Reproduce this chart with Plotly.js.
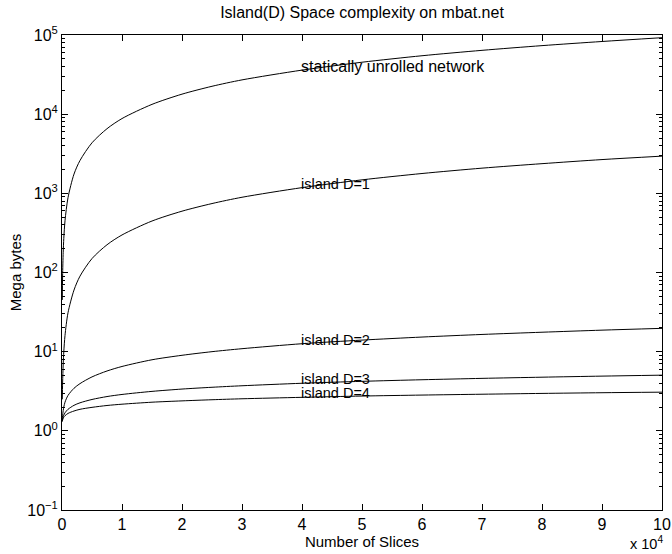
<!DOCTYPE html>
<html>
<head>
<meta charset="utf-8">
<script src="https://cdn.plot.ly/plotly-3.0.1.min.js"></script>
<style>
html,body{margin:0;padding:0;background:#fff;}
#chart{width:672px;height:554px;}
</style>
</head>
<body>
<div id="chart"></div>
<script>
// Number of slices (in units of 10^4)
var slices = [0.005, 0.01, 0.02, 0.03, 0.05, 0.1, 0.2, 0.3, 0.5, 0.75, 1, 1.5, 2, 2.5, 3, 4, 5, 6, 7, 8, 9, 10];

// Mega bytes
var staticNet = [45, 90, 180, 270, 450, 880, 1750, 2600, 4350, 6550, 8800, 13300, 17900, 22500, 27100, 36000, 45300, 54700, 64000, 73400, 82800, 92500];
var islandD1  = [2.5, 4, 7, 10, 16, 31, 60, 90, 150, 224, 298, 447, 595, 743, 892, 1180, 1480, 1780, 2080, 2370, 2670, 2950];
var islandD2  = [1.38, 1.55, 1.8, 2.0, 2.3, 2.8, 3.45, 3.95, 4.8, 5.7, 6.5, 7.9, 9.0, 10.0, 10.9, 12.6, 14.0, 15.3, 16.5, 17.6, 18.7, 19.7];
var islandD3  = [1.32, 1.41, 1.51, 1.58, 1.69, 1.87, 2.10, 2.26, 2.49, 2.71, 2.88, 3.15, 3.37, 3.55, 3.71, 3.99, 4.22, 4.42, 4.60, 4.76, 4.91, 5.05];
var islandD4  = [1.31, 1.37, 1.44, 1.49, 1.55, 1.66, 1.78, 1.87, 1.98, 2.09, 2.17, 2.30, 2.39, 2.47, 2.54, 2.65, 2.75, 2.83, 2.90, 2.97, 3.03, 3.08];

var seriesNames = ["statically unrolled network", "island D=1", "island D=2", "island D=3", "island D=4"];
var seriesData = [staticNet, islandD1, islandD2, islandD3, islandD4];
var labelX = 4;

var yTickVals = [0.1, 1, 10, 100, 1000, 10000, 100000];
var yTickText = ["10<sup>\u22121</sup>", "10<sup>0</sup>", "10<sup>1</sup>", "10<sup>2</sup>", "10<sup>3</sup>", "10<sup>4</sup>", "10<sup>5</sup>"];
var xTickVals = [0, 1, 2, 3, 4, 5, 6, 7, 8, 9, 10];

var minorVals = [];
for (var k = -1; k <= 4; k++) {
  for (var m = 2; m <= 9; m++) minorVals.push(m * Math.pow(10, k));
}

var FONT = "Liberation Sans, Arial, Helvetica, sans-serif";

var traces = seriesData.map(function (ys, i) {
  return {
    x: slices, y: ys, type: "scatter", mode: "lines",
    name: seriesNames[i],
    line: {color: "#000000", width: 1, shape: "spline", smoothing: 0.8},
    hoverinfo: "skip"
  };
});

var li = slices.indexOf(labelX);
var annotations = seriesData.map(function (ys, i) {
  return {
    x: labelX, y: Math.log10(ys[li]), xref: "x", yref: "y",
    text: seriesNames[i], showarrow: false,
    xanchor: "left", yanchor: "middle", yshift: 4, xshift: -3,
    font: {family: FONT, size: i === 0 ? 16 : 14.5, color: "#000"}
  };
});
annotations.push({
  x: 0.943, y: -0.070, xref: "paper", yref: "paper", yanchor: "middle", xanchor: "left",
  text: "x 10<sup>4</sup>", showarrow: false,
  font: {family: FONT, size: 14.5, color: "#000"}
});

var layout = {
  width: 672, height: 554,
  margin: {l: 62, r: 10, t: 35, b: 44},
  paper_bgcolor: "#ffffff", plot_bgcolor: "#ffffff",
  showlegend: false,
  font: {family: FONT, color: "#000"},
  title: {
    text: "Island(D) Space complexity on mbat.net",
    x: 0.5, xref: "paper", xanchor: "center",
    y: 1 - 12 / 554, yref: "container", yanchor: "middle",
    font: {family: FONT, size: 16, color: "#000"}
  },
  xaxis: {
    range: [0, 10], tickmode: "array", tickvals: xTickVals,
    ticks: "inside", ticklen: 6, tickwidth: 1, tickcolor: "#000",
    showline: true, linecolor: "#000", linewidth: 1, mirror: "allticks",
    showgrid: false, zeroline: false,
    tickfont: {family: FONT, size: 16, color: "#000"},
    title: {text: "Number of Slices", font: {family: FONT, size: 15, color: "#000"}, standoff: 2}
  },
  yaxis: {
    type: "log", range: [-1, 5], tickmode: "array", tickvals: yTickVals, ticktext: yTickText,
    ticks: "inside", ticklen: 6, tickwidth: 1, tickcolor: "#000",
    minor: {tickmode: "array", tickvals: minorVals, ticks: "inside", ticklen: 3, tickcolor: "#000", tickwidth: 1, showgrid: false},
    showline: true, linecolor: "#000", linewidth: 1, mirror: "allticks",
    showgrid: false, zeroline: false,
    tickfont: {family: FONT, size: 16, color: "#000"},
    title: {text: "Mega bytes", font: {family: FONT, size: 15, color: "#000"}, standoff: 1}
  },
  annotations: annotations
};

Plotly.newPlot("chart", traces, layout, {displayModeBar: false, staticPlot: true});
</script>
</body>
</html>
